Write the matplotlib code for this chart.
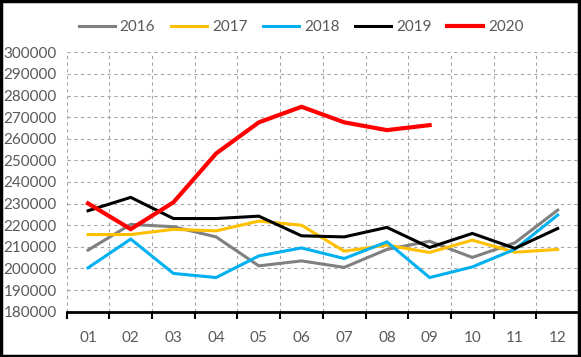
import matplotlib
matplotlib.use("Agg")
import matplotlib.pyplot as plt
from matplotlib.patches import Rectangle
from matplotlib.ticker import FixedLocator, NullFormatter

months = ["01", "02", "03", "04", "05", "06", "07", "08", "09", "10", "11", "12"]
s2016 = [208500, 220400, 219300, 214600, 201200, 203500, 200500, 208800, 212600, 205100, 211900, 227000]
s2017 = [215700, 215700, 218100, 217400, 221900, 220000, 208000, 210800, 207400, 213100, 207500, 208800]
s2018 = [200300, 213600, 197700, 195800, 205800, 209500, 204600, 212300, 195800, 200700, 208900, 224700]
s2019 = [226700, 232900, 223100, 223100, 224200, 215100, 214600, 219000, 209700, 216200, 209300, 218500]
s2020 = [230100, 218200, 230600, 253200, 267600, 274800, 267600, 264000, 266300]
yticks = list(range(180000, 300001, 10000))

plt.rcParams['font.family'] = ['Lato', 'DejaVu Sans']
txt = '#595959'

fig = plt.figure(figsize=(5.81, 3.57), dpi=100)
ax = fig.add_axes([0.1148, 0.1269, 0.8818, 0.7266])

x = list(range(len(months)))
series = [("2016", s2016, '#808080', 2.2), ("2017", s2017, '#FFC000', 2.2),
          ("2018", s2018, '#00B0F0', 2.2), ("2019", s2019, '#000000', 2.2),
          ("2020", s2020, '#FF0000', 3.0)]
for name, vals, col, lw in series:
    ax.plot(x[:len(vals)], vals, color=col, lw=lw, label=name, solid_joinstyle='miter')

ax.set_xlim(-0.5, 11.5)
ax.set_ylim(180000, 300000)
ax.set_yticks(yticks)
ax.set_yticklabels([str(v) for v in yticks])
ax.xaxis.set_major_locator(FixedLocator([i - 0.5 for i in range(13)]))
ax.xaxis.set_major_formatter(NullFormatter())
ax.xaxis.set_minor_locator(FixedLocator(x))
ax.set_xticklabels(months, minor=True)
ax.tick_params(axis='x', which='major', length=5, width=1.5, color='black', direction='out')
ax.tick_params(axis='x', which='minor', length=0, pad=14, labelsize=11, labelcolor=txt)
ax.tick_params(axis='y', length=0, pad=7, labelsize=11, labelcolor=txt)

ax.grid(True, which='major', axis='both', color='#A6A6A6', ls=(0, (3, 3)), lw=0.8)
for s in ['top', 'right', 'left']:
    ax.spines[s].set_visible(False)
ax.spines['bottom'].set_linewidth(2)
ax.spines['bottom'].set_color('black')
ax.set_axisbelow(True)

leg = fig.legend(loc='center', bbox_to_anchor=(0.518, 0.924), ncol=5, frameon=False,
                 fontsize=11, handlelength=2.4, handletextpad=0.3, columnspacing=1.0)
for t in leg.get_texts():
    t.set_color(txt)

fig.patches.append(Rectangle((0.002, 0.003), 0.994, 0.993, transform=fig.transFigure,
                             fill=False, edgecolor='black', lw=2.5))

fig.savefig("out.png", dpi=100)
